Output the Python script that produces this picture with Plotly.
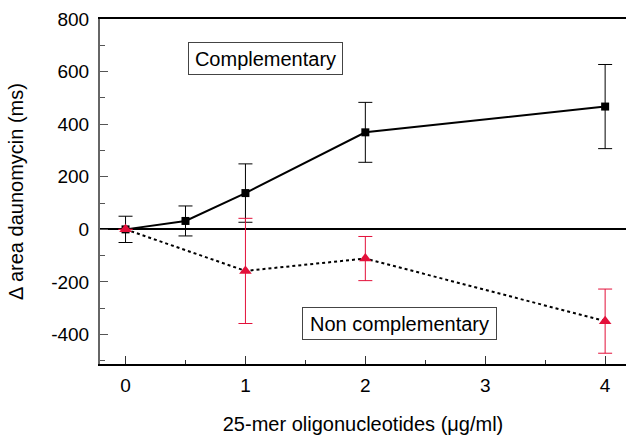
import plotly.graph_objects as go

# Data
x_comp = [0, 0.5, 1, 2, 4]
y_comp = [0, 32, 138, 369, 467]
err_comp = [50, 57, 111, 114, 160]

x_non = [0, 1, 2, 4]
y_non = [0, -158, -111, -349]
err_non = [0, 200, 84, 122]

x_ticks = [0, 1, 2, 3, 4]
y_ticks = [-400, -200, 0, 200, 400, 600, 800]

RED = "#e3103a"
FONT = "Liberation Sans, Arial, Helvetica, sans-serif"

fig = go.Figure()

fig.add_trace(go.Scatter(
    x=x_comp, y=y_comp, mode="lines+markers",
    line=dict(color="black", width=2),
    marker=dict(symbol="square", size=8, color="black"),
    error_y=dict(type="data", array=err_comp, color="black", thickness=1, width=7),
    showlegend=False,
))

fig.add_trace(go.Scatter(
    x=x_non, y=y_non, mode="lines+markers",
    line=dict(color="black", width=2, dash="dot"),
    marker=dict(symbol="triangle-up", size=11, color=RED),
    error_y=dict(type="data", array=err_non, color=RED, thickness=1, width=7),
    showlegend=False,
))

fig.add_annotation(x=1.168, y=651, text="Complementary", showarrow=False,
                   font=dict(family=FONT, size=20, color="black"),
                   bordercolor="#444", borderwidth=1, borderpad=0,
                   width=153, height=31, bgcolor="white")
fig.add_annotation(x=2.281, y=-358, text="Non complementary", showarrow=False,
                   font=dict(family=FONT, size=20, color="black"),
                   bordercolor="#444", borderwidth=1, borderpad=0,
                   width=193, height=31, bgcolor="white")

fig.update_layout(
    width=626, height=436,
    margin=dict(l=100, r=0, t=19, b=72),
    plot_bgcolor="white", paper_bgcolor="white",
    font=dict(family=FONT, size=19, color="black"),
)

fig.update_xaxes(
    range=[-0.213, 4.174], tickvals=x_ticks, ticktext=[str(v) for v in x_ticks],
    ticks="inside", ticklen=8, tickcolor="#333", tickwidth=1,
    tickfont=dict(family=FONT, size=19), ticklabelstandoff=3,
    minor=dict(dtick=0.5, tick0=0, ticks="inside", ticklen=4, tickcolor="#333"),
    showline=True, linecolor="black", linewidth=1.5, mirror=True,
    showgrid=False, zeroline=False,
    title=dict(text="25-mer oligonucleotides (μg/ml)", standoff=22,
               font=dict(family=FONT, size=20)),
    automargin=False,
)
fig.update_yaxes(
    range=[-512, 800], tickvals=y_ticks, ticktext=[str(v) for v in y_ticks],
    ticks="inside", ticklen=8, tickcolor="#555", tickwidth=1,
    tickfont=dict(family=FONT, size=19), ticklabelstandoff=5,
    minor=dict(dtick=100, tick0=0, ticks="inside", ticklen=5, tickcolor="#555"),
    showline=True, linecolor="#666", linewidth=2,
    showgrid=False, zeroline=True, zerolinecolor="black", zerolinewidth=1.5,
    title=dict(text="Δ area daunomycin (ms)", standoff=22,
               font=dict(family=FONT, size=20)),
    automargin=False,
)

fig.write_html("out.html")
